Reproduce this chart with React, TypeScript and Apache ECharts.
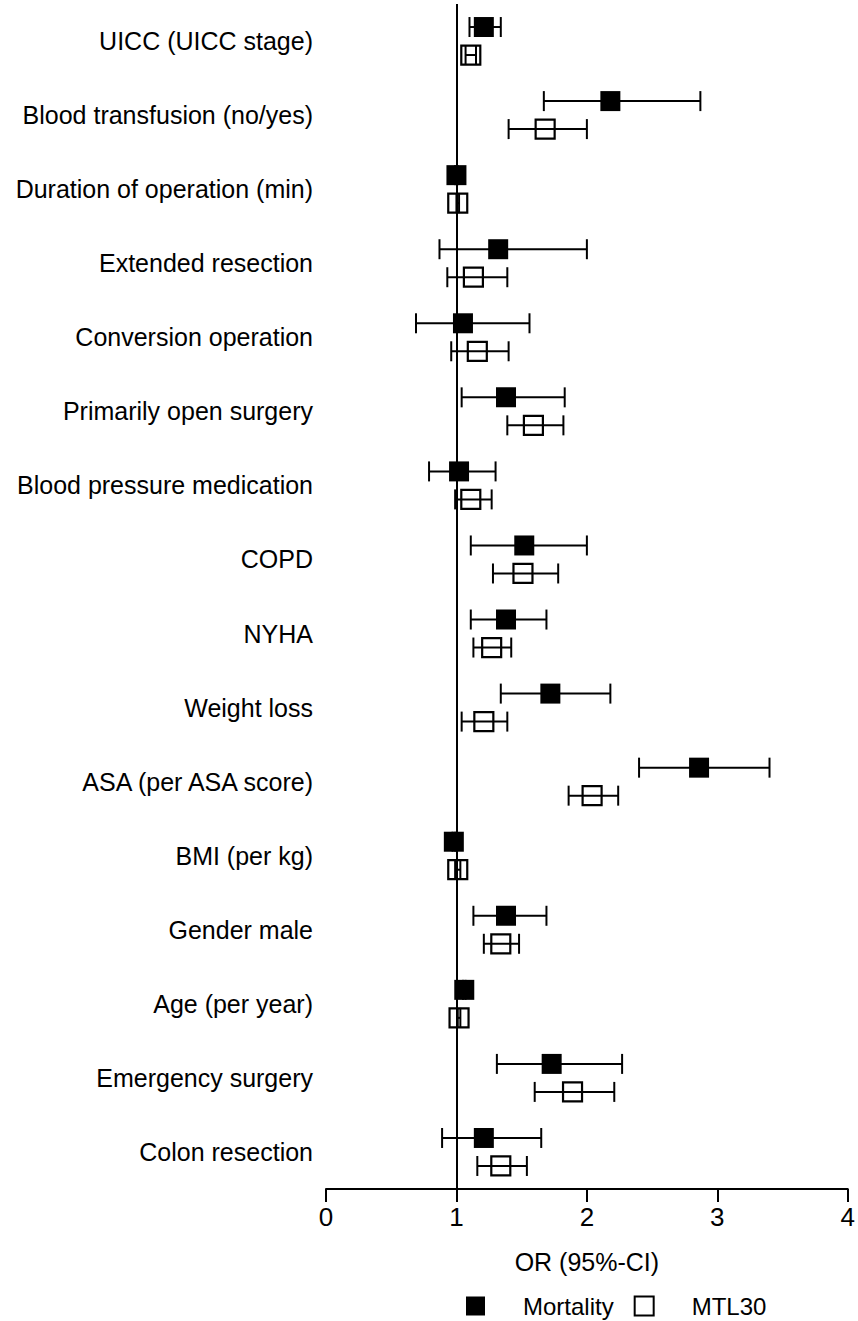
import React, { useEffect, useRef } from "react";
import * as echarts from "echarts";

const categories = [
  "UICC (UICC stage)",
  "Blood transfusion (no/yes)",
  "Duration of operation (min)",
  "Extended resection",
  "Conversion operation",
  "Primarily open surgery",
  "Blood pressure medication",
  "COPD",
  "NYHA",
  "Weight loss",
  "ASA (per ASA score)",
  "BMI (per kg)",
  "Gender male",
  "Age (per year)",
  "Emergency surgery",
  "Colon resection",
];

const mortalityOR = [1.21, 2.18, 1.0, 1.32, 1.05, 1.38, 1.02, 1.52, 1.38, 1.72, 2.86, 0.98, 1.38, 1.06, 1.73, 1.21];
const mortalityLow = [1.1, 1.67, 0.99, 0.87, 0.69, 1.04, 0.79, 1.11, 1.11, 1.34, 2.4, 0.97, 1.13, 1.05, 1.31, 0.89];
const mortalityHigh = [1.34, 2.87, 1.01, 2.0, 1.56, 1.83, 1.3, 2.0, 1.69, 2.18, 3.4, 0.99, 1.69, 1.07, 2.27, 1.65];

const mtlOR = [1.11, 1.68, 1.01, 1.13, 1.16, 1.59, 1.11, 1.51, 1.27, 1.21, 2.04, 1.01, 1.34, 1.02, 1.89, 1.34];
const mtlLow = [1.07, 1.4, 1.0, 0.93, 0.96, 1.39, 0.99, 1.28, 1.13, 1.04, 1.86, 0.99, 1.21, 1.01, 1.6, 1.16];
const mtlHigh = [1.15, 2.0, 1.02, 1.39, 1.4, 1.82, 1.27, 1.78, 1.42, 1.39, 2.24, 1.03, 1.48, 1.03, 2.21, 1.54];

const xTicks = [0, 1, 2, 3, 4];
const referenceOR = 1;

const FONT = "'Liberation Sans', Arial, sans-serif";

function makeRender(offset: number, filled: boolean) {
  return (params: any, api: any) => {
    const est = api.value(0);
    const cat = api.value(1);
    const lo = api.value(2);
    const hi = api.value(3);
    const c = api.coord([est, cat]);
    const cy = c[1] + offset;
    const xl = api.coord([lo, cat])[0];
    const xh = api.coord([hi, cat])[0];
    const ls = { stroke: "#000", lineWidth: 2 };
    const half = 10;
    const box = filled
      ? {
          type: "rect",
          shape: { x: c[0] - 10, y: cy - 10, width: 20, height: 20 },
          style: { fill: "#000" },
        }
      : {
          type: "rect",
          shape: { x: c[0] - 9.5, y: cy - 9.5, width: 19, height: 19 },
          style: { fill: "none", stroke: "#000", lineWidth: 2.2 },
        };
    return {
      type: "group",
      children: [
        { type: "line", shape: { x1: xl, y1: cy, x2: xh, y2: cy }, style: ls },
        { type: "line", shape: { x1: xl, y1: cy - half, x2: xl, y2: cy + half }, style: ls },
        { type: "line", shape: { x1: xh, y1: cy - half, x2: xh, y2: cy + half }, style: ls },
        box,
      ],
    };
  };
}

export default function App() {
  const ref = useRef<HTMLDivElement>(null);
  useEffect(() => {
    if (!ref.current) return;
    const chart = echarts.init(ref.current, undefined, { renderer: "svg" });
    const mortData = categories.map((_, i) => [mortalityOR[i], i, mortalityLow[i], mortalityHigh[i]]);
    const mtlData = categories.map((_, i) => [mtlOR[i], i, mtlLow[i], mtlHigh[i]]);
    chart.setOption({
      animation: false,
      backgroundColor: "#fff",
      grid: { left: 326, right: 7.5, top: 4, bottom: 1321 - 1189, containLabel: false },
      xAxis: {
        type: "value",
        min: xTicks[0],
        max: xTicks[xTicks.length - 1],
        interval: 1,
        name: "OR (95%-CI)",
        nameLocation: "middle",
        nameGap: 60,
        nameTextStyle: { color: "#000", fontSize: 25, fontFamily: FONT },
        axisLine: { show: true, lineStyle: { color: "#000", width: 2 } },
        axisTick: { show: true, length: 13, lineStyle: { color: "#000", width: 2 } },
        axisLabel: { color: "#000", fontSize: 26, fontFamily: FONT, margin: 15 },
        splitLine: { show: false },
      },
      yAxis: {
        type: "category",
        data: categories,
        inverse: true,
        axisLine: { show: false },
        axisTick: { show: false },
        splitLine: { show: false },
        axisLabel: { color: "#000", fontSize: 25, fontFamily: FONT, margin: 13 },
      },
      legend: {
        left: 466,
        top: 1294,
        padding: 0,
        itemWidth: 19,
        itemHeight: 19,
        itemGap: 20,
        textStyle: {
          color: "#000",
          fontSize: 24,
          lineHeight: 24,
          fontFamily: FONT,
          padding: [0, 0, 0, 33],
        },
        data: [
          { name: "Mortality", icon: "rect", itemStyle: { color: "#000" } },
          {
            name: "MTL30",
            icon: "rect",
            itemStyle: { color: "#fff", borderColor: "#000", borderWidth: 2 },
          },
        ],
      },
      series: [
        {
          name: "Mortality",
          type: "custom",
          renderItem: makeRender(-14, true),
          encode: { x: [0, 2, 3], y: 1 },
          data: mortData,
          clip: false,
          itemStyle: { color: "#000" },
          z: 3,
          markLine: {
            silent: true,
            symbol: "none",
            label: { show: false },
            lineStyle: { color: "#000", width: 2, type: "solid" },
            data: [{ xAxis: referenceOR }],
            z: 2,
          },
        },
        {
          name: "MTL30",
          type: "custom",
          renderItem: makeRender(14, false),
          encode: { x: [0, 2, 3], y: 1 },
          data: mtlData,
          clip: false,
          itemStyle: { color: "#fff", borderColor: "#000" },
          z: 3,
        },
      ],
    });
    return () => chart.dispose();
  }, []);
  return (
    <div
      ref={ref}
      style={{ position: "fixed", left: 0, top: 0, width: 858, height: 1321, background: "#fff" }}
    />
  );
}
